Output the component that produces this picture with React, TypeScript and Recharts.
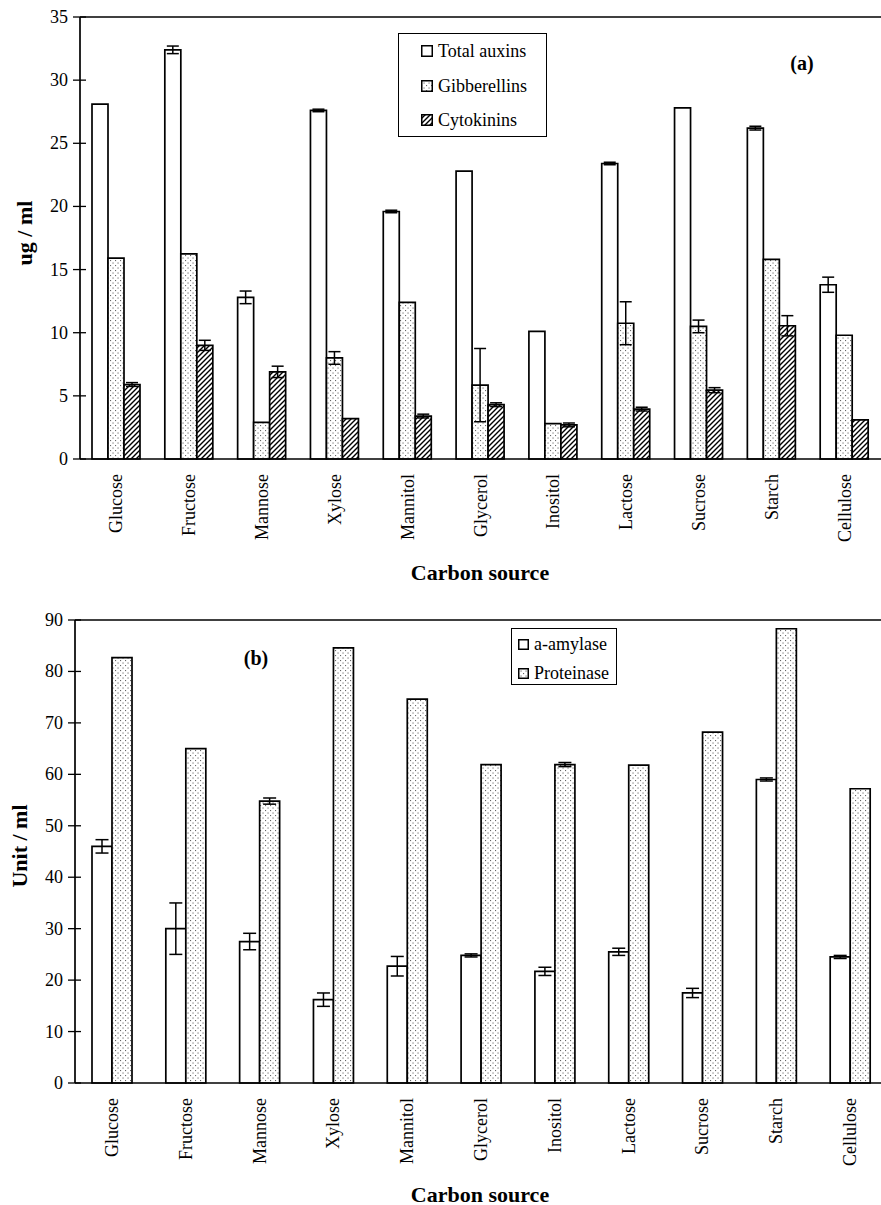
import React from "react";
import { BarChart, Bar, XAxis, YAxis, ErrorBar, Legend, ReferenceLine } from "recharts";

const SERIF = "Liberation Serif, serif";

const categories = [
	"Glucose",
	"Fructose",
	"Mannose",
	"Xylose",
	"Mannitol",
	"Glycerol",
	"Inositol",
	"Lactose",
	"Sucrose",
	"Starch",
	"Cellulose",
];

// (a) hormones, ug / ml
const totalAuxins = [28.1, 32.4, 12.8, 27.6, 19.6, 22.8, 10.1, 23.4, 27.8, 26.2, 13.8];
const totalAuxinsErr = [null, 0.3, 0.5, 0.1, 0.1, null, null, 0.1, null, 0.15, 0.6];
const gibberellins = [15.9, 16.25, 2.9, 8.0, 12.4, 5.85, 2.8, 10.75, 10.5, 15.8, 9.8];
const gibberellinsErr = [null, null, null, 0.5, null, 2.9, null, 1.7, 0.5, null, null];
const cytokinins = [5.9, 9.0, 6.9, 3.2, 3.4, 4.3, 2.7, 3.95, 5.45, 10.55, 3.1];
const cytokininsErr = [0.15, 0.4, 0.45, null, 0.15, 0.15, 0.15, 0.15, 0.2, 0.8, null];
const ticksA = [0, 5, 10, 15, 20, 25, 30, 35];

// (b) enzymes, Unit / ml
const amylase = [46.0, 30.0, 27.5, 16.2, 22.7, 24.8, 21.7, 25.5, 17.5, 59.0, 24.5];
const amylaseErr = [1.3, 5.0, 1.6, 1.3, 1.9, 0.3, 0.8, 0.7, 0.9, 0.3, 0.3];
const proteinase = [82.7, 65.0, 54.8, 84.6, 74.6, 61.9, 61.9, 61.8, 68.2, 88.3, 57.2];
const proteinaseErr = [null, null, 0.6, null, null, null, 0.4, null, null, null, null];
const ticksB = [0, 10, 20, 30, 40, 50, 60, 70, 80, 90];

const dataA = categories.map((name, i) => ({
	name,
	ta: totalAuxins[i],
	taErr: totalAuxinsErr[i],
	gib: gibberellins[i],
	gibErr: gibberellinsErr[i],
	cyt: cytokinins[i],
	cytErr: cytokininsErr[i],
}));

const dataB = categories.map((name, i) => ({
	name,
	amy: amylase[i],
	amyErr: amylaseErr[i],
	prot: proteinase[i],
	protErr: proteinaseErr[i],
}));

const legendA = [
	{ name: "Total auxins", fill: "#fff" },
	{ name: "Gibberellins", fill: "url(#dots)" },
	{ name: "Cytokinins", fill: "url(#hatch)" },
];

const legendB = [
	{ name: "a-amylase", fill: "#fff" },
	{ name: "Proteinase", fill: "url(#dots)" },
];

function YTick(props: any) {
	const { x, y, payload } = props;
	return (
		<g>
			<line x1={x - 7} x2={x + 6} y1={y} y2={y} stroke="#000" strokeWidth={1.3} />
			<text
				x={x - 12}
				y={y}
				textAnchor="end"
				dominantBaseline="central"
				fontSize={18}
				fontFamily={SERIF}
				fill="#000"
			>
				{payload.value}
			</text>
		</g>
	);
}

function XTick(props: any) {
	const { x, y, payload } = props;
	const ty = y + 15;
	return (
		<text
			x={x}
			y={ty}
			transform={`rotate(-90 ${x} ${ty})`}
			textAnchor="end"
			dominantBaseline="central"
			fontSize={18}
			fontFamily={SERIF}
			fill="#000"
		>
			{payload.value}
		</text>
	);
}

interface LegendItem {
	name: string;
	fill: string;
}

function makeLegend(items: LegendItem[], iconLeft: number, topPad: number, rowGap: number, icon: number) {
	return function BoxLegend() {
		return (
			<div
				style={{
					width: "100%",
					height: "100%",
					boxSizing: "border-box",
					border: "1.3px solid #000",
					background: "#fff",
					position: "relative",
				}}
			>
				{items.map((it, i) => (
					<div
						key={it.name}
						style={{
							position: "absolute",
							left: iconLeft,
							top: topPad + i * rowGap,
							transform: "translateY(-50%)",
							display: "flex",
							alignItems: "center",
							whiteSpace: "nowrap",
							fontFamily: SERIF,
							fontSize: 18,
							lineHeight: "20px",
							color: "#000",
						}}
					>
						<svg width={icon} height={icon} style={{ marginRight: 5, display: "block" }}>
							<rect
								x={0.75}
								y={0.75}
								width={icon - 1.5}
								height={icon - 1.5}
								fill={it.fill}
								stroke="#000"
								strokeWidth={1.5}
							/>
						</svg>
						<span style={{ fontFamily: SERIF }}>{it.name}</span>
					</div>
				))}
			</div>
		);
	};
}

const LegendA = makeLegend(legendA, 22, 17, 34.5, 12);
const LegendB = makeLegend(legendB, 6, 15, 29, 11);

const barStyle = { stroke: "#000", strokeWidth: 1.7 };
const errStyle = { stroke: "#000", strokeWidth: 1.5 };

export default function App() {
	return (
		<div
			style={{
				position: "absolute",
				left: 0,
				top: 0,
				width: 881,
				height: 1205,
				overflow: "hidden",
				background: "#fff",
				fontFamily: SERIF,
			}}
		>
			<svg width={0} height={0} style={{ position: "absolute" }}>
				<defs>
					<pattern id="dots" width="5" height="5" patternUnits="userSpaceOnUse">
						<rect width="5" height="5" fill="#fff" />
						<rect x="0" y="0" width="1.1" height="1.1" fill="#666" />
						<rect x="2.5" y="2.5" width="1.1" height="1.1" fill="#666" />
					</pattern>
					<pattern id="hatch" width="5" height="5" patternUnits="userSpaceOnUse">
						<rect width="5" height="5" fill="#fff" />
						<path d="M-1,1 L1,-1 M0,5 L5,0 M4,6 L6,4" stroke="#000" strokeWidth="1.4" />
					</pattern>
				</defs>
			</svg>

			<div style={{ position: "absolute", left: 0, top: 0 }}>
				<BarChart
					width={900}
					height={600}
					data={dataA}
					margin={{ top: 17, right: 19, left: 0, bottom: 0 }}
					barGap={0}
					barSize={16}
				>
					<XAxis
						dataKey="name"
						interval={0}
						tick={<XTick />}
						tickLine={false}
						tickSize={0}
						tickMargin={0}
						axisLine={{ stroke: "#000", strokeWidth: 1.7 }}
						height={141}
					/>
					<YAxis
						domain={[0, 35]}
						ticks={ticksA}
						tick={<YTick />}
						tickLine={false}
						tickSize={0}
						tickMargin={0}
						axisLine={{ stroke: "#000", strokeWidth: 1.7 }}
						width={80}
					/>
					<ReferenceLine y={35} stroke="#000" strokeWidth={1.5} />
					<Legend
						layout="vertical"
						align="center"
						verticalAlign="middle"
						width={149}
						height={104}
						wrapperStyle={{ left: 398, top: 33, width: 149, height: 104 }}
						content={<LegendA />}
					/>
					<Bar dataKey="ta" name="Total auxins" fill="#fff" {...barStyle} isAnimationActive={false}>
						<ErrorBar dataKey="taErr" width={6} {...errStyle} isAnimationActive={false} />
					</Bar>
					<Bar dataKey="gib" name="Gibberellins" fill="url(#dots)" {...barStyle} isAnimationActive={false}>
						<ErrorBar dataKey="gibErr" width={6} {...errStyle} isAnimationActive={false} />
					</Bar>
					<Bar dataKey="cyt" name="Cytokinins" fill="url(#hatch)" {...barStyle} isAnimationActive={false}>
						<ErrorBar dataKey="cytErr" width={6} {...errStyle} isAnimationActive={false} />
					</Bar>
					<text x={802} y={63} textAnchor="middle" dominantBaseline="central" fontSize={20} fontWeight="bold" fontFamily={SERIF}>
						(a)
					</text>
					<text x={480} y={572} textAnchor="middle" dominantBaseline="central" fontSize={22} fontWeight="bold" fontFamily={SERIF}>
						Carbon source
					</text>
					<text
						x={24}
						y={233}
						transform="rotate(-90 24 233)"
						textAnchor="middle"
						dominantBaseline="central"
						fontSize={22}
						fontWeight="bold"
						fontFamily={SERIF}
					>
						ug / ml
					</text>
				</BarChart>
			</div>

			<div style={{ position: "absolute", left: 0, top: 600 }}>
				<BarChart
					width={900}
					height={605}
					data={dataB}
					margin={{ top: 20, right: 13, left: 0, bottom: 0 }}
					barGap={0}
					barSize={20}
				>
					<XAxis
						dataKey="name"
						interval={0}
						tick={<XTick />}
						tickLine={false}
						tickSize={0}
						tickMargin={0}
						axisLine={{ stroke: "#000", strokeWidth: 1.7 }}
						height={122}
					/>
					<YAxis
						domain={[0, 90]}
						ticks={ticksB}
						tick={<YTick />}
						tickLine={false}
						tickSize={0}
						tickMargin={0}
						axisLine={{ stroke: "#000", strokeWidth: 1.7 }}
						width={75}
					/>
					<ReferenceLine y={90} stroke="#000" strokeWidth={1.5} />
					<Legend
						layout="vertical"
						align="center"
						verticalAlign="middle"
						width={106}
						height={57}
						wrapperStyle={{ left: 511, top: 28, width: 106, height: 57 }}
						content={<LegendB />}
					/>
					<Bar dataKey="amy" name="a-amylase" fill="#fff" {...barStyle} isAnimationActive={false}>
						<ErrorBar dataKey="amyErr" width={6.5} {...errStyle} isAnimationActive={false} />
					</Bar>
					<Bar dataKey="prot" name="Proteinase" fill="url(#dots)" {...barStyle} isAnimationActive={false}>
						<ErrorBar dataKey="protErr" width={6.5} {...errStyle} isAnimationActive={false} />
					</Bar>
					<text x={256} y={58} textAnchor="middle" dominantBaseline="central" fontSize={20} fontWeight="bold" fontFamily={SERIF}>
						(b)
					</text>
					<text x={480} y={594} textAnchor="middle" dominantBaseline="central" fontSize={22} fontWeight="bold" fontFamily={SERIF}>
						Carbon source
					</text>
					<text
						x={19}
						y={246}
						transform="rotate(-90 19 246)"
						textAnchor="middle"
						dominantBaseline="central"
						fontSize={22}
						fontWeight="bold"
						fontFamily={SERIF}
					>
						Unit / ml
					</text>
				</BarChart>
			</div>
		</div>
	);
}
